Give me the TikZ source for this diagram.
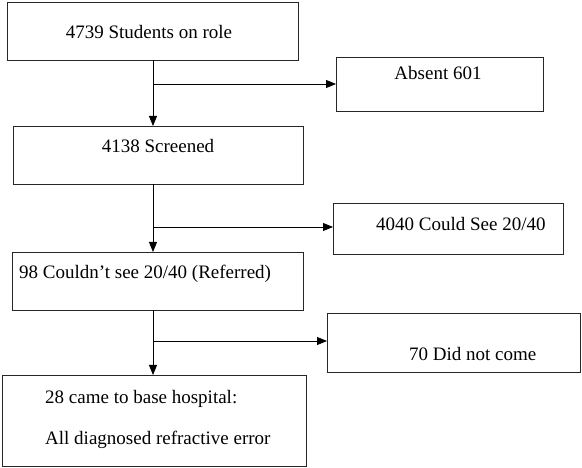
\documentclass[tikz,border=0pt]{standalone}
\usepackage{fontspec}
\setmainfont{Liberation Serif}
\usetikzlibrary{arrows.meta}
\begin{document}
\begin{tikzpicture}[x=1pt,y=-1pt,
  box/.style={draw=black!85,line width=0.8pt,minimum width=#1,inner sep=0pt,outer sep=0pt},
  lbl/.style={font=\fontsize{19}{23}\selectfont,inner sep=0pt},
  conn/.style={line width=0.8pt,draw=black},
  arr/.style={conn,-{Triangle[length=10pt,width=8pt]}}]
\useasboundingbox (0,0) rectangle (582,468);
% main boxes
\node[box=291pt,minimum height=58pt] (b1) at (152.5,31) {};
\node[box=290pt,minimum height=58pt] (b2) at (158,155) {};
\node[box=291pt,minimum height=58pt] (b3) at (157.5,281) {};
\node[box=304pt,minimum height=91pt] (b4) at (154,420.5) {};
% side boxes
\node[box=207pt,minimum height=54pt] (a1) at (439.5,84) {};
\node[box=230pt,minimum height=51pt] (a2) at (448,228.5) {};
\node[box=253pt,minimum height=59pt] (a3) at (453.5,342.5) {};
% texts
\node[lbl,anchor=base] (t1) at (149,39) {4739 Students on role};
\node[lbl,anchor=base] (t2) at (158,153) {4138 Screened};
\node[lbl,anchor=base west] (t3) at (19,279) {98 Couldn’t see 20/40 (Referred)};
\node[lbl,anchor=base west] (t4) at (45,403) {28 came to base hospital:};
\node[lbl,anchor=base west] (t5) at (45,444) {All diagnosed refractive error};
\node[lbl,anchor=base] (ta1) at (438,80) {Absent 601};
\node[lbl,anchor=base west] (ta2) at (376,231) {4040 Could See 20/40};
\node[lbl,anchor=base west] (ta3) at (409,361) {70 Did not come};
% junction coordinates
\coordinate (j1) at (153,84);
\coordinate (j2) at (153,227);
\coordinate (j3) at (153,341);
% connectors
\draw[arr] (b1.south -| j1) -- (b2.north -| j1);
\draw[arr] (j1) -- (a1.west |- j1);
\draw[arr] (b2.south -| j2) -- (b3.north -| j2);
\draw[arr] (j2) -- (a2.west |- j2);
\draw[arr] (b3.south -| j3) -- (b4.north -| j3);
\draw[arr] (j3) -- (a3.west |- j3);
\end{tikzpicture}
\end{document}
